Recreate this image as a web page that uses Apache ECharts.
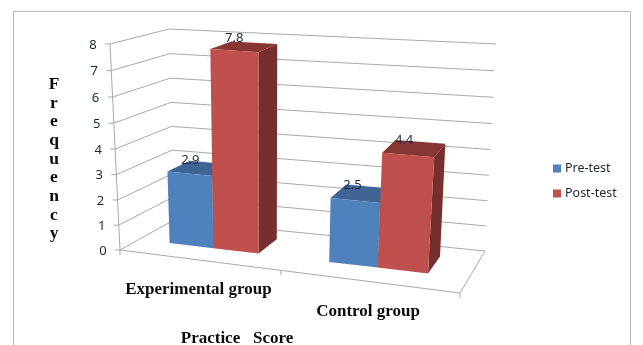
<!DOCTYPE html>
<html>
<head>
<meta charset="utf-8">
<style>html,body{margin:0;padding:0;background:#fff}#c{width:643px;height:345px}</style>
<script src="https://cdn.jsdelivr.net/npm/echarts@6/dist/echarts.min.js"></script>
</head>
<body>
<div id="c"></div>
<script>
const categories = ['Experimental group', 'Control group'];
const preTest = [2.9, 2.5];
const postTest = [7.8, 4.4];
const yTicks = [0, 1, 2, 3, 4, 5, 6, 7, 8];
const yTitle = 'Frequency';
const xTitle = 'Practice   Score';

const INK = '#1d2738';
const GRID = '#a9a9a9';
const UI_FONT = '"Noto Sans", sans-serif';
const SERIF = '"Liberation Serif", serif';

// Corners of the 3D box on screen: [u, height, depth] -> pixel
const BOX = {
  fl0: [120, 250], fr0: [460, 293], bl0: [174, 220], br0: [485, 251],
  fl1: [110, 44],  fr1: [476, 70],  bl1: [169, 29],  br1: [496, 44]
};
const mix = (a, b, t) => [a[0] + (b[0] - a[0]) * t, a[1] + (b[1] - a[1]) * t];
// Foreshortening along the width and the height of the box
const warpU = u => u / (u + (1 - u) * 1.112);
const warpV = v => v / (v + (1 - v) * 1.04);

function project(u, v, w) {
  const uu = warpU(u), vv = warpV(v);
  const low = mix(mix(BOX.fl0, BOX.fr0, uu), mix(BOX.bl0, BOX.br0, uu), w);
  const high = mix(mix(BOX.fl1, BOX.fr1, uu), mix(BOX.bl1, BOX.br1, uu), w);
  return mix(low, high, vv);
}

// Axis pixel -> normalised position on the front plane of the box
function toUnit(params, pt) {
  const r = params.coordSys;
  return [(pt[0] - r.x) / r.width, (r.y + r.height - pt[1]) / r.height];
}

const line = (a, b) => ({
  type: 'line',
  shape: { x1: a[0], y1: a[1], x2: b[0], y2: b[1] },
  style: { stroke: GRID, lineWidth: 1, fill: null }
});
const poly = (pts, fill) => ({ type: 'polygon', shape: { points: pts }, style: { fill: fill } });

const DEPTH_FRONT = 0.35, DEPTH_BACK = 0.77;

function barRenderer(slot, colors) {
  return function (params, api) {
    const cat = api.value(0), val = api.value(1);
    const band = api.size([1, 0])[0];
    const centre = api.coord([cat, val]);
    const base = api.coord([cat, 0]);
    const barW = band * 0.285;
    const x0 = centre[0] - band * 0.01 + (slot - 1) * barW;
    const x1 = x0 + barW;
    const u0 = toUnit(params, [x0, centre[1]])[0];
    const u1 = toUnit(params, [x1, centre[1]])[0];
    const v = toUnit(params, centre)[1];
    const v0 = toUnit(params, base)[1];
    const d0 = DEPTH_FRONT, d1 = DEPTH_BACK;
    const mid = project((u0 + u1) / 2, v, (d0 + d1) / 2);
    return {
      type: 'group',
      children: [
        poly([project(u1, v0, d0), project(u1, v0, d1), project(u1, v, d1), project(u1, v, d0)], colors.side),
        poly([project(u0, v, d0), project(u1, v, d0), project(u1, v, d1), project(u0, v, d1)], colors.top),
        poly([project(u0, v0, d0), project(u1, v0, d0), project(u1, v, d0), project(u0, v, d0)], colors.front),
        {
          type: 'text', z2: 20,
          style: {
            text: String(val), x: mid[0] - 10, y: mid[1] - 8,
            align: 'center', verticalAlign: 'middle',
            font: '13px ' + UI_FONT, fill: INK
          }
        }
      ]
    };
  };
}

// Walls, floor, ticks and tick labels of the box
function frameRenderer(params, api) {
  const tick = api.value(0);
  const v = toUnit(params, api.coord([0, tick]))[1];
  const front = project(0, v, 0), back = project(0, v, 1), right = project(1, v, 1);
  const children = [
    line(front, back),
    line(back, right),
    line([front[0] - 5, front[1]], front),
    {
      type: 'text',
      style: {
        text: String(tick), x: front[0] - 17, y: front[1] + 1,
        align: 'center', verticalAlign: 'middle',
        font: '13px ' + UI_FONT, fill: INK
      }
    }
  ];
  if (tick === 0) {
    const top = project(0, 1, 0);
    const fr = project(1, 0, 0);
    const mid = project(0.5, 0, 0);
    children.push(line(front, top), line(front, fr), line(fr, right));
    [front, mid, fr].forEach(p => children.push(line(p, [p[0], p[1] + 5])));
  }
  return { type: 'group', children: children };
}

function categoryLabelRenderer(params, api) {
  const cat = api.value(0);
  const u = toUnit(params, api.coord([cat, 0]))[0];
  const p = project(u, 0, 0);
  return {
    type: 'text',
    style: {
      text: categories[cat], x: p[0], y: p[1] + 30,
      align: 'center', verticalAlign: 'middle',
      font: 'bold 17px ' + SERIF, fill: '#0c0c0c'
    }
  };
}

const BLUE = { front: '#4f81bd', top: '#3e6593', side: '#345578' };
const RED = { front: '#c0504d', top: '#873634', side: '#772f2d' };

const chart = echarts.init(document.getElementById('c'), null, { renderer: 'canvas' });
chart.setOption({
  animation: false,
  backgroundColor: '#fff',
  graphic: [{
    type: 'rect', silent: true, z: -10,
    shape: { x: 13.5, y: 11.5, width: 617, height: 360 },
    style: { fill: null, stroke: '#b8b8b8', lineWidth: 1 }
  }],
  title: [
    {
      text: yTitle.split('').join('\n'),
      left: 49, top: 70, textAlign: 'center',
      textStyle: { fontFamily: SERIF, fontWeight: 'bold', fontSize: 17.5, lineHeight: 18.7, color: '#0c0c0c' }
    },
    {
      text: xTitle,
      left: 232, top: 325, textAlign: 'center',
      textStyle: { fontFamily: SERIF, fontWeight: 'bold', fontSize: 17, color: '#0c0c0c', whiteSpace: 'pre' }
    }
  ],
  legend: {
    data: ['Pre-test', 'Post-test'],
    orient: 'vertical', left: 553, top: 162, padding: 0,
    icon: 'rect', itemWidth: 8, itemHeight: 8, itemGap: 12,
    selectedMode: false,
    textStyle: { fontFamily: UI_FONT, fontSize: 12.5, color: INK, padding: [0, 0, 0, -1] }
  },
  grid: { left: 120, top: 44, width: 340, height: 206 },
  xAxis: { type: 'category', data: categories, show: false },
  yAxis: { type: 'value', min: 0, max: 8, interval: 1, show: false },
  series: [
    {
      type: 'custom', name: 'frame', coordinateSystem: 'cartesian2d', clip: false, z: 1,
      renderItem: frameRenderer, data: yTicks.map(t => [t]), encode: { y: 0 }
    },
    {
      type: 'custom', name: 'categoryLabels', coordinateSystem: 'cartesian2d', clip: false, z: 1,
      renderItem: categoryLabelRenderer, data: categories.map((c, i) => [i]), encode: { x: 0 }
    },
    {
      type: 'custom', name: 'Pre-test', coordinateSystem: 'cartesian2d', clip: false, z: 2,
      itemStyle: { color: BLUE.front },
      renderItem: barRenderer(0, BLUE), data: preTest.map((v, i) => [i, v]), encode: { x: 0, y: 1 }
    },
    {
      type: 'custom', name: 'Post-test', coordinateSystem: 'cartesian2d', clip: false, z: 3,
      itemStyle: { color: RED.front },
      renderItem: barRenderer(1, RED), data: postTest.map((v, i) => [i, v]), encode: { x: 0, y: 1 }
    }
  ]
});
</script>
</body>
</html>
